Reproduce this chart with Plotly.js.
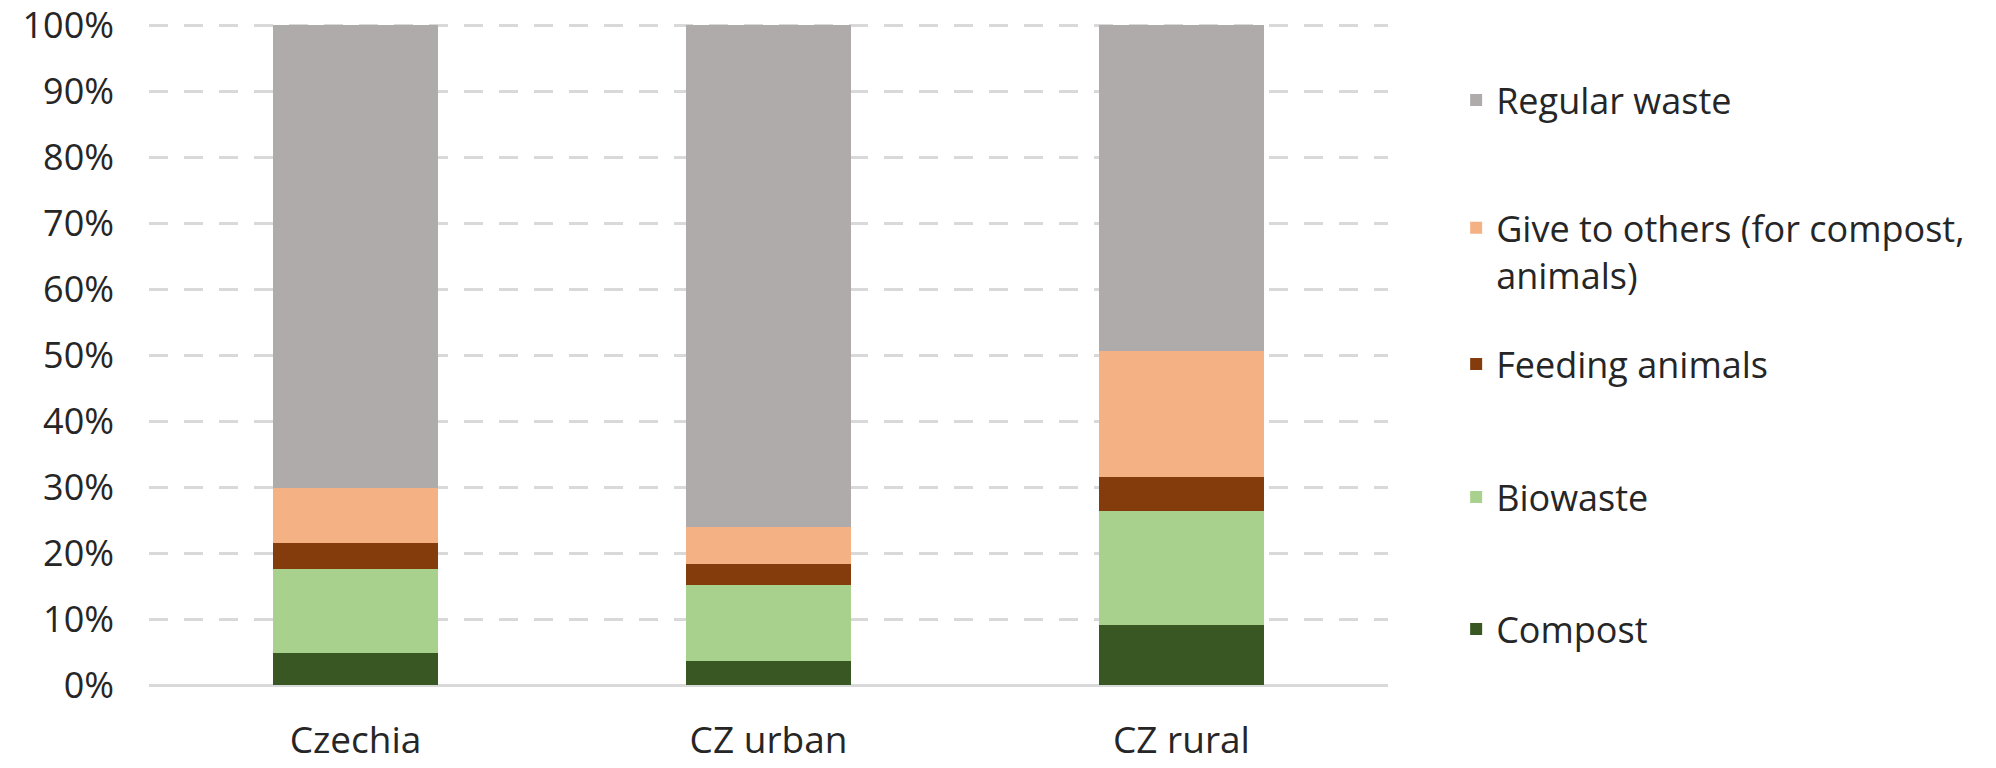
<!DOCTYPE html>
<html>
<head>
<meta charset="utf-8">
<script src="https://cdn.plot.ly/plotly-3.0.1.min.js"></script>
<style>html,body{margin:0;padding:0;background:#fff;}#chart{width:1996px;height:768px;}</style>
</head>
<body>
<div id="chart"></div>
<script>
const categories = ["Czechia", "CZ urban", "CZ rural"];
const compost = [4.8, 3.7, 9.1];
const biowaste = [12.8, 11.5, 17.3];
const feedingAnimals = [3.9, 3.1, 5.2];
const giveToOthers = [8.4, 5.6, 19.1];
const regularWaste = [70.1, 76.1, 49.3];
const yTicks = [0, 10, 20, 30, 40, 50, 60, 70, 80, 90, 100];

const seriesNames = ["Compost", "Biowaste", "Feeding animals", "Give to others (for compost,<br>animals)", "Regular waste"];
const seriesValues = [compost, biowaste, feedingAnimals, giveToOthers, regularWaste];
const seriesColors = ["#385723", "#A9D18E", "#843C0C", "#F4B183", "#AFABAB"];

const FONT = "Open Sans, sans-serif";
const TXT = "#262626";

// one legend box per series so the entries sit on evenly spaced slots
const legendIds = ["legend5", "legend4", "legend3", "legend2", "legend"];
const legendY = [0.0847, 0.2844, 0.4856, 0.737, 0.885];
const legendAnchor = ["middle", "middle", "middle", "top", "middle"];

const traces = seriesNames.map((n, i) => ({
  type: "bar",
  name: n,
  x: categories,
  y: seriesValues[i],
  marker: {color: seriesColors[i], line: {width: 0}},
  legend: legendIds[i],
  hoverinfo: "x+y+name"
}));

const layout = {
  width: 1996,
  height: 768,
  barmode: "stack",
  bargap: 0.6,
  paper_bgcolor: "#ffffff",
  plot_bgcolor: "#ffffff",
  margin: {l: 149, r: 608, t: 24, b: 83},
  font: {family: FONT, size: 36, color: TXT},
  xaxis: {
    type: "category",
    showgrid: false,
    showline: false,
    ticks: "",
    ticklabelstandoff: 30,
    tickfont: {family: FONT, size: 37, color: TXT}
  },
  yaxis: {
    range: [0, 100.2],
    tickvals: yTicks,
    ticktext: yTicks.map(v => v + "%"),
    showgrid: true,
    gridcolor: "#D9D9D9",
    gridwidth: 3,
    griddash: "19px,16px",
    zeroline: true,
    zerolinecolor: "#D9D9D9",
    zerolinewidth: 3,
    showline: false,
    ticks: "",
    ticklabelstandoff: 34,
    ticklabeloverflow: "allow",
    tickfont: {family: FONT, size: 36, color: TXT}
  },
  showlegend: true
};

legendIds.forEach((id, i) => {
  layout[id] = {
    x: 1.055,
    xanchor: "left",
    y: legendY[i],
    yanchor: legendAnchor[i],
    valign: "top",
    font: {family: FONT, size: 36, color: TXT},
    bgcolor: "rgba(0,0,0,0)"
  };
});

Plotly.newPlot("chart", traces, layout, {displayModeBar: false, staticPlot: true});
</script>
</body>
</html>
